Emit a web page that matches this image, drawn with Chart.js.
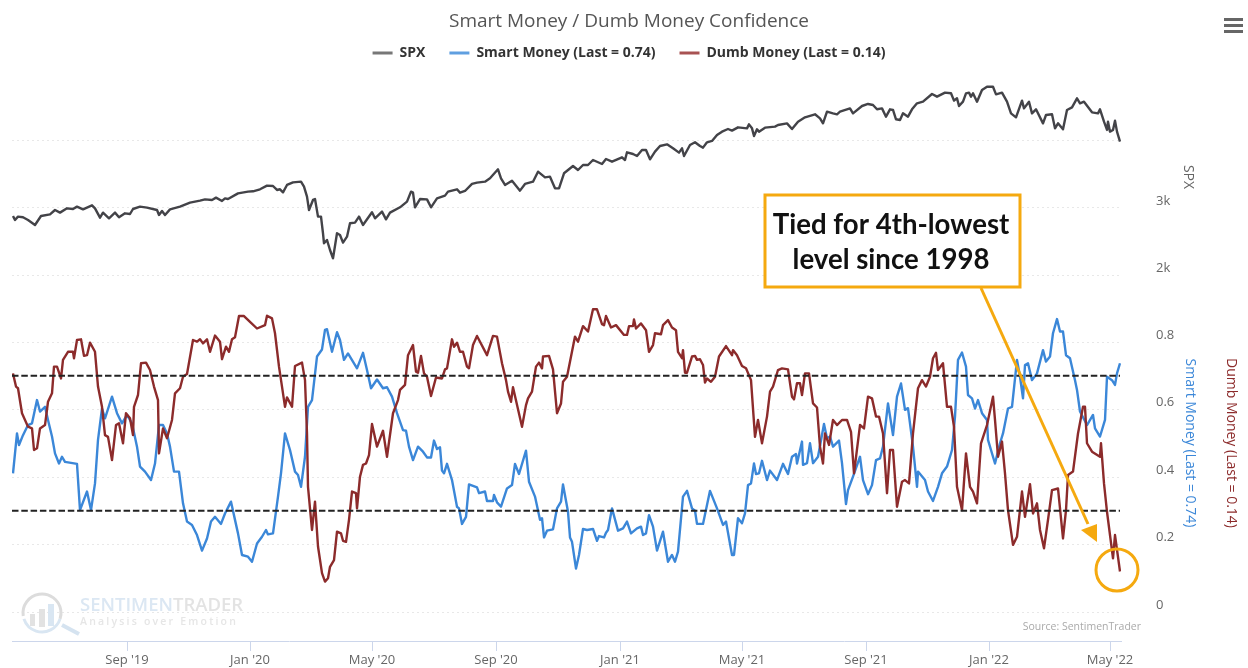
<!DOCTYPE html>
<html><head><meta charset="utf-8">
<style>html,body{margin:0;padding:0;background:#fff}canvas{display:block}</style>
<script src="https://cdn.jsdelivr.net/npm/chart.js@4"></script>
</head><body><canvas id="c" width="1248" height="668"></canvas>
<script>
const chartTitle = "Smart Money / Dumb Money Confidence";
const spxName = "SPX", smartName = "Smart Money (Last = 0.74)", dumbName = "Dumb Money (Last = 0.14)";
const monthTickDays = [115,238,360,484,608,730,854,977,1098];
const monthTickLabels = ["Sep '19","Jan '20","May '20","Sep '20","Jan '21","May '21","Sep '21","Jan '22","May '22"];
const confTicks = [0,0.2,0.4,0.6,0.8];
const confTickLabels = ["0","0.2","0.4","0.6","0.8"];
const spxTicks = [2000,3000,4000];
const spxTickLabels = ["2k","3k",""];
const upperBand = [0.7,0.7], lowerBand = [0.3,0.3], bandDays = [0,1108];

const spxDays = [1,3,6,11,16,23,29,38,43,48,55,61,65,71,80,83,88,91,97,103,107,113,118,121,128,135,145,147,150,153,158,168,178,188,193,200,204,210,213,216,226,236,241,248,255,261,265,268,271,275,281,289,292,295,297,301,303,306,309,311,312,315,318,321,325,328,331,335,338,343,347,351,360,363,370,374,378,388,395,399,401,403,408,415,419,425,433,436,445,448,453,460,465,473,478,486,489,493,500,508,513,521,526,533,538,543,547,552,561,566,571,576,581,590,594,600,610,613,615,621,625,630,634,638,643,648,655,661,667,670,672,678,683,688,691,695,700,705,710,716,720,726,735,737,740,742,745,747,753,763,766,775,780,786,793,803,808,811,815,821,825,828,838,841,850,856,861,865,870,874,878,881,884,888,891,896,900,905,911,920,925,933,939,942,945,947,951,954,957,959,961,965,970,975,981,984,990,995,999,1004,1010,1012,1017,1020,1024,1031,1034,1040,1043,1046,1051,1055,1060,1065,1068,1072,1080,1086,1088,1092,1095,1096,1098,1101,1103,1105,1108];
const spxValues = [2881,2822,2872,2862,2822,2748,2881,2906,2970,2931,2995,2985,3020,2980,3040,2995,2857,2931,2847,2931,2862,2921,2911,2985,3020,3005,2970,2896,2956,2896,2980,3020,3079,3109,3128,3119,3153,3104,3143,3133,3217,3242,3247,3277,3331,3326,3267,3277,3232,3341,3380,3390,3316,3168,2970,3119,3133,2872,2872,2625,2477,2526,2378,2254,2625,2600,2486,2575,2773,2783,2872,2748,2936,2847,2946,2832,2931,3010,3094,3242,3227,3010,3133,3128,3010,3143,3183,3242,3277,3227,3252,3356,3375,3390,3440,3573,3440,3341,3405,3257,3356,3390,3538,3454,3464,3291,3291,3514,3622,3563,3637,3637,3711,3652,3726,3686,3751,3711,3825,3800,3770,3859,3859,3721,3835,3918,3943,3884,3820,3884,3770,3933,3973,3918,3894,3973,3993,4081,4131,4170,4146,4195,4180,4239,4180,4067,4165,4131,4190,4205,4230,4254,4170,4279,4343,4388,4328,4254,4427,4402,4388,4427,4476,4402,4511,4541,4526,4462,4476,4353,4462,4452,4314,4304,4402,4353,4462,4551,4575,4689,4649,4709,4699,4590,4625,4511,4575,4699,4709,4649,4699,4575,4748,4797,4797,4684,4709,4575,4402,4343,4590,4476,4575,4402,4462,4254,4378,4388,4180,4254,4165,4452,4491,4625,4551,4575,4417,4402,4462,4279,4156,4279,4131,4156,4294,4131,3983];

const smartDays = [1,5,7,11,16,20,25,28,33,36,40,43,47,50,53,65,68,75,79,83,86,90,93,100,105,110,115,120,125,128,133,139,143,147,151,155,158,162,167,171,175,180,185,190,195,199,203,209,213,219,223,226,230,236,240,245,250,254,256,261,266,269,273,278,283,286,289,293,296,300,305,310,313,315,320,325,328,332,336,345,351,355,359,365,371,375,380,385,388,391,394,397,401,406,411,415,419,422,425,428,430,432,435,440,445,447,450,454,457,465,467,473,475,481,482,485,489,495,500,503,507,514,517,523,528,530,532,535,541,545,549,551,556,558,560,564,567,571,575,581,585,587,592,594,596,600,606,611,615,619,625,629,631,634,637,641,645,651,656,660,663,666,671,675,680,683,685,691,698,705,711,714,720,722,726,730,733,736,739,742,744,747,750,755,758,765,771,776,780,784,785,790,791,795,798,801,806,812,815,818,821,827,830,834,836,841,848,851,856,860,864,868,871,876,881,885,889,893,896,901,905,906,913,916,921,926,930,935,940,943,946,950,954,956,960,963,966,970,975,976,983,988,991,996,1000,1005,1008,1011,1013,1016,1020,1025,1031,1034,1038,1041,1045,1048,1051,1054,1058,1063,1065,1068,1075,1081,1083,1088,1093,1095,1100,1103,1105,1108];
const smartValues = [.411,.529,.495,.524,.554,.559,.628,.594,.608,.569,.520,.470,.440,.460,.445,.439,.302,.357,.302,.381,.510,.603,.574,.638,.589,.559,.584,.559,.490,.431,.416,.391,.440,.554,.554,.529,.490,.416,.416,.322,.268,.258,.228,.182,.218,.268,.282,.261,.292,.327,.273,.233,.169,.164,.149,.203,.223,.243,.230,.233,.342,.411,.529,.480,.416,.406,.371,.460,.608,.628,.757,.778,.836,.838,.771,.829,.806,.747,.766,.722,.768,.717,.663,.689,.663,.666,.638,.589,.564,.539,.537,.490,.450,.490,.475,.458,.458,.508,.483,.488,.419,.411,.439,.391,.312,.307,.261,.282,.378,.369,.352,.357,.329,.329,.347,.325,.312,.366,.376,.439,.409,.478,.386,.342,.273,.278,.221,.241,.245,.307,.327,.378,.297,.221,.208,.129,.169,.246,.243,.246,.211,.225,.221,.235,.243,.307,.241,.248,.268,.233,.248,.253,.228,.233,.287,.253,.182,.238,.149,.169,.149,.179,.342,.359,.307,.300,.261,.261,.359,.307,.258,.268,.169,.169,.278,.263,.292,.376,.381,.440,.409,.411,.448,.391,.419,.391,.439,.409,.460,.468,.440,.505,.436,.441,.500,.441,.460,.557,.515,.520,.490,.508,.441,.320,.361,.401,.460,.391,.349,.376,.450,.455,.490,.618,.524,.638,.677,.599,.604,.490,.371,.416,.391,.357,.329,.371,.411,.431,.480,.579,.747,.769,.727,.643,.633,.603,.628,.589,.569,.510,.440,.500,.529,.603,.608,.747,.697,.633,.732,.737,.687,.707,.776,.742,.757,.826,.868,.831,.831,.761,.752,.687,.658,.594,.554,.584,.544,.520,.569,.697,.687,.673,.707,.737];

const dumbDays = [1,4,6,10,13,16,20,22,25,28,33,36,40,42,45,49,51,56,61,62,65,69,72,75,78,83,86,90,93,96,100,104,107,111,114,118,121,122,126,129,134,138,142,146,147,151,155,160,163,168,171,175,181,185,188,191,195,198,203,208,210,214,217,220,223,227,232,238,245,253,255,260,263,267,270,273,275,280,283,290,293,295,296,300,303,306,310,313,316,318,322,325,329,331,334,337,340,344,345,348,351,354,357,360,365,371,375,381,386,388,393,396,401,404,406,409,412,415,419,424,430,433,435,440,442,445,448,451,455,457,461,465,475,481,485,490,494,496,499,501,510,514,516,520,524,527,530,531,537,541,545,549,551,555,563,566,571,576,581,585,590,592,594,599,604,612,615,617,621,622,624,629,634,637,641,643,649,651,656,660,664,666,670,671,673,675,680,683,685,688,691,693,695,699,703,707,714,720,721,725,730,734,739,743,746,750,755,758,761,766,770,776,780,782,785,788,790,793,797,801,805,808,811,813,817,821,825,830,835,839,842,848,852,856,860,864,867,871,875,878,881,885,890,893,897,901,906,910,914,918,921,924,926,931,935,939,942,945,950,954,958,961,965,969,975,981,983,986,990,993,996,1001,1005,1010,1013,1018,1021,1025,1028,1032,1036,1040,1046,1051,1054,1056,1061,1066,1071,1073,1075,1080,1088,1089,1092,1095,1101,1103,1108];
const dumbValues = [.707,.668,.663,.589,.569,.549,.544,.480,.485,.544,.554,.623,.648,.727,.727,.692,.747,.771,.771,.752,.806,.808,.759,.761,.798,.771,.668,.608,.524,.519,.450,.554,.559,.500,.589,.574,.524,.608,.643,.737,.739,.717,.668,.628,.470,.544,.515,.569,.648,.663,.697,.705,.806,.801,.808,.796,.808,.771,.819,.801,.749,.786,.771,.808,.814,.877,.877,.860,.840,.850,.878,.870,.826,.727,.668,.608,.636,.608,.729,.739,.687,.529,.371,.243,.327,.194,.115,.090,.100,.134,.154,.238,.233,.211,.208,.273,.357,.352,.307,.401,.436,.440,.465,.557,.490,.537,.460,.589,.628,.658,.673,.761,.791,.712,.709,.759,.707,.697,.640,.695,.692,.719,.722,.808,.786,.798,.771,.771,.727,.722,.791,.818,.761,.818,.816,.737,.687,.653,.623,.666,.549,.613,.633,.653,.727,.739,.722,.757,.759,.719,.589,.618,.682,.697,.816,.801,.847,.831,.897,.897,.853,.850,.877,.843,.850,.821,.821,.847,.847,.867,.840,.855,.835,.771,.791,.826,.823,.850,.865,.843,.835,.771,.752,.776,.709,.709,.757,.759,.747,.749,.732,.680,.692,.682,.697,.757,.788,.761,.776,.761,.729,.722,.687,.519,.569,.500,.579,.653,.668,.717,.722,.719,.638,.630,.678,.678,.643,.707,.707,.618,.606,.490,.440,.529,.495,.569,.554,.569,.569,.534,.411,.554,.544,.638,.633,.579,.579,.529,.352,.480,.480,.312,.386,.391,.381,.529,.663,.687,.668,.697,.752,.768,.717,.737,.608,.608,.549,.371,.302,.470,.371,.357,.322,.500,.554,.638,.569,.460,.505,.411,.302,.199,.223,.357,.282,.379,.292,.322,.243,.189,.273,.361,.366,.218,.302,.406,.416,.529,.608,.608,.500,.475,.460,.500,.381,.297,.159,.228,.120];

const pairs = (xs, ys) => xs.map((x, i) => ({x, y: ys[i]}));
const lightLegend = ["#777777", "#5f9fe0", "#a85252"];

const decor = {
  id: "decor",
  beforeLayout(chart) {
    const lg = chart.legend;
    if (lg && !lg._p) { const fit = lg.fit; lg.fit = function () { fit.call(this); this.height = 38.2; }; lg._p = true; }
  },
  afterLayout(chart) {
    chart.legend.top = 22; chart.legend.left = 10; chart.legend.right = 1248;
    chart.titleBlock.left = 10; chart.titleBlock.right = 1248;
    chart.scales.yConf.right = 1248; chart.scales.ySpx.right = 1248;
  },
  beforeDatasetsDraw(chart) {
    const c = chart.ctx; c.save();
    c.lineWidth = 3; c.strokeStyle = "#dcdcdc";
    c.beginPath(); c.arc(42, 613, 19, Math.PI * 0.95, Math.PI * 2.1); c.stroke();
    c.strokeStyle = "#d9e6f2"; c.beginPath(); c.arc(42, 613, 19, Math.PI * 0.1, Math.PI * 0.9); c.stroke();
    c.fillStyle = "#e2e2e2"; c.fillRect(30, 614, 5, 12); c.fillRect(39, 609, 6, 18);
    c.fillStyle = "#d9e6f2"; c.fillRect(48, 604, 6, 22);
    c.strokeStyle = "#d5e3f0"; c.lineWidth = 4; c.beginPath(); c.moveTo(62, 625); c.lineTo(79, 634); c.stroke();
    c.textBaseline = "middle"; c.textAlign = "left";
    c.font = "600 18.5px 'Open Sans'";
    c.fillStyle = "#dbe7f3"; c.fillText("SENTIMEN", 80, 606);
    const w = c.measureText("SENTIMEN").width;
    c.fillStyle = "#e3e3e3"; c.fillText("TRADER", 80 + w, 606);
    c.font = "600 10.5px 'Open Sans'"; c.letterSpacing = "2.2px";
    c.fillStyle = "#e6e6e6"; c.fillText("Analysis over Emotion", 80, 622);
    c.letterSpacing = "0px";
    c.restore();
  },
  afterDraw(chart) {
    const c = chart.ctx; c.save();
    const orange = "#f5a90f";
    c.strokeStyle = orange; c.fillStyle = orange; c.lineWidth = 3;
    c.beginPath(); c.moveTo(981, 288); c.lineTo(1088, 524); c.stroke();
    c.beginPath(); c.moveTo(1097, 542); c.lineTo(1081, 530); c.lineTo(1097, 524); c.closePath(); c.fill();
    c.fillStyle = "#fff"; c.fillRect(765, 195, 255, 92);
    c.strokeRect(765, 195, 255, 92);
    c.fillStyle = "#111"; c.textAlign = "center"; c.textBaseline = "middle";
    c.font = "bold 27.6px Lato";
    c.fillText("Tied for 4th-lowest", 891, 225);
    c.fillText("level since 1998", 891, 260);
    c.beginPath(); c.arc(1117, 570, 21, 0, Math.PI * 2); c.stroke();
    c.fillStyle = "#aaa"; c.textAlign = "right"; c.font = "10.5px 'Open Sans'";
    c.fillText("Source: SentimenTrader", 1141, 627);
    const rot = (t, x, y, col) => { c.save(); c.translate(x, y); c.rotate(Math.PI / 2);
      c.fillStyle = col; c.textAlign = "center"; c.textBaseline = "middle"; c.fillText(t, 0, 0); c.restore(); };
    c.font = "14px 'Open Sans'";
    rot(spxName, 1188, 177, "#666");
    rot(smartName, 1190, 443, "#3b87d8");
    rot(dumbName, 1231, 443, "#8c2b2b");
    c.strokeStyle = "#666"; c.lineWidth = 3;
    for (const y of [19.5, 25.5, 31.5]) { c.beginPath(); c.moveTo(1224, y); c.lineTo(1243, y); c.stroke(); }
    c.restore();
  }
};

const line = (label, data, color, extra) => Object.assign({label, data, borderColor: color, backgroundColor: color, borderWidth: 2.4, pointRadius: 0, tension: 0, borderJoinStyle: "round"}, extra);
const yTick = (vals) => ({
  afterBuildTicks: s => { s.ticks = vals.map(v => ({value: v})); },
  afterFit: s => { s.width = 0; s.paddingTop = 0; s.paddingBottom = 0; s.paddingLeft = 0; s.paddingRight = 0; }
});

new Chart(document.getElementById("c"), {
  type: "line",
  data: { datasets: [
    line(spxName, pairs(spxDays, spxValues), "#434348", {yAxisID: "ySpx", order: 4}),
    line(smartName, pairs(smartDays, smartValues), "#3b87d8", {yAxisID: "yConf", order: 3}),
    line(dumbName, pairs(dumbDays, dumbValues), "#8c2b2b", {yAxisID: "yConf", order: 2}),
    line("Upper band", pairs(bandDays, upperBand), "#222", {yAxisID: "yConf", borderDash: [6.5, 2.8], borderWidth: 2, order: 1}),
    line("Lower band", pairs(bandDays, lowerBand), "#222", {yAxisID: "yConf", borderDash: [6.5, 2.8], borderWidth: 2, order: 1})
  ]},
  options: {
    responsive: false, animation: false, devicePixelRatio: 1,
    layout: {padding: {left: 12, right: 127, top: 0, bottom: 0}},
    plugins: {
      tooltip: {enabled: false},
      title: {display: true, text: chartTitle, color: "#555", font: {family: "'Open Sans'", size: 19, weight: "normal"}, padding: {top: 10, bottom: 3}},
      legend: {display: true, position: "top", labels: {
        boxWidth: 20, boxHeight: 3, padding: 24, color: "#333", font: {family: "'Open Sans'", size: 14, weight: "bold"},
        filter: it => it.datasetIndex < 3,
        generateLabels: ch => ch.data.datasets.map((d, i) => ({text: d.label, fillStyle: lightLegend[i], strokeStyle: lightLegend[i], lineWidth: 0, datasetIndex: i, fontColor: "#333"}))
      }}
    },
    scales: {
      x: { type: "linear", min: 0, max: 1109, position: "bottom",
        afterBuildTicks: s => { s.ticks = monthTickDays.map(v => ({value: v})); },
        afterFit: s => { s.height = 27; s.paddingLeft = 0; s.paddingRight = 0; s.paddingTop = 0; s.paddingBottom = 0; },
        grid: {drawOnChartArea: false, drawTicks: true, tickLength: 10, color: "#ccd6eb"},
        border: {color: "#ccd6eb"},
        ticks: {autoSkip: false, maxRotation: 0, padding: 1, color: "#666", font: {family: "'Open Sans'", size: 13},
          callback: (v) => monthTickLabels[monthTickDays.indexOf(v)] }
      },
      yConf: Object.assign(yTick(confTicks), { position: "right", min: -0.0859, max: 1.5941,
        grid: {color: "#e8e8e8", drawTicks: false}, border: {display: false, dash: [2, 3]},
        ticks: {autoSkip: false, padding: 35, labelOffset: -7, color: "#666", font: {family: "'Open Sans'", size: 13},
          callback: v => confTickLabels[confTicks.indexOf(v)] }
      }),
      ySpx: Object.assign(yTick(spxTicks), { position: "right", min: -3415, max: 4985,
        grid: {color: "#e8e8e8", drawTicks: false}, border: {display: false, dash: [2, 3]},
        ticks: {autoSkip: false, padding: 35, labelOffset: -7, color: "#666", font: {family: "'Open Sans'", size: 13},
          callback: v => spxTickLabels[spxTicks.indexOf(v)] }
      })
    }
  },
  plugins: [decor]
});
</script></body></html>
